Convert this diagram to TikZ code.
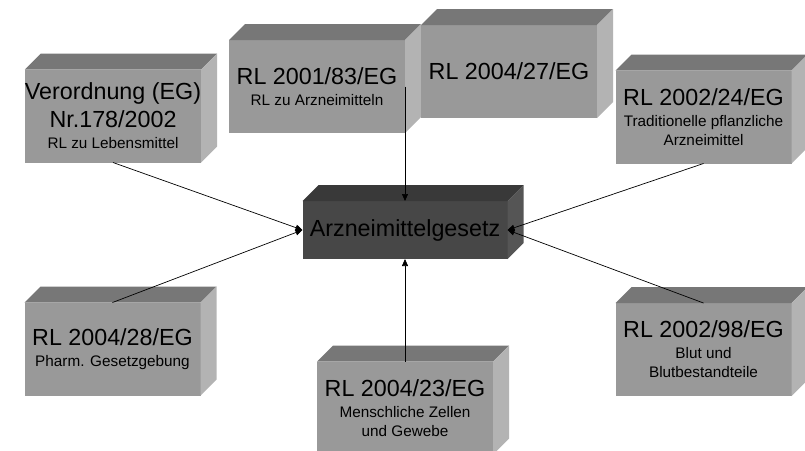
\documentclass[tikz,border=0pt]{standalone}
\usepackage{fontspec}
\setmainfont{Liberation Sans}
\usetikzlibrary{arrows.meta, positioning}
\definecolor{boxfront}{HTML}{999999}
\definecolor{boxtop}{HTML}{777777}
\definecolor{boxside}{HTML}{B3B3B3}
\definecolor{corefront}{HTML}{474747}
\definecolor{coretop}{HTML}{393939}
\definecolor{coreside}{HTML}{555555}
\newcommand{\bigtxt}{\fontsize{23.3}{28}\selectfont}
\newcommand{\smtxt}{\fontsize{15.3}{19}\selectfont}
% top and side face of a block: node, top colour, side colour
\newcommand{\quader}[3]{%
  \fill[#2] (#1.north west) -- ++(16,-16) -- ([xshift=16pt,yshift=16pt]#1.north east) -- (#1.north east) -- cycle;
  \fill[#3] (#1.north east) -- ++(16,-16) -- ([xshift=16pt,yshift=16pt]#1.south east) -- (#1.south east) -- cycle;
}
\tikzset{
  rl box/.style={
    rectangle, fill=boxfront, draw=none,
    minimum width=176pt, minimum height=93pt,
    inner sep=0pt, outer sep=0pt,
    align=center, font=\bigtxt
  },
  rl core/.style={
    rl box, fill=corefront,
    minimum width=205pt, minimum height=58pt
  },
  rl arrow/.style={
    -{Triangle[length=7pt,width=6pt]}, line width=0.7pt, draw=black
  }
}

\begin{document}
\begin{tikzpicture}[x=1pt, y=-1pt]
  \useasboundingbox (0,0) rectangle (805,450);
  % upper row
  \node (verord) [rl box] at (113,116) {Verordnung (EG)\\Nr.178/2002\\[-7pt]\smtxt RL zu Lebensmittel};
  \quader{verord}{boxtop}{boxside}
  \node (rl2001) [rl box] at (317,86.5) {RL 2001/83/EG\\[-7pt]\smtxt RL zu Arzneimitteln};
  \quader{rl2001}{boxtop}{boxside}
  \node (rl2004a) [rl box] at (509,71.5) {RL 2004/27/EG};
  \quader{rl2004a}{boxtop}{boxside}
  \node (rl2002a) [rl box] at (703.5,117) {RL 2002/24/EG\\[-7pt]\smtxt Traditionelle pflanzliche\\[-9pt]\smtxt Arzneimittel};
  \quader{rl2002a}{boxtop}{boxside}
  % centre
  \node (zentrum) [rl core] at (405,230) {Arzneimittelgesetz};
  \quader{zentrum}{coretop}{coreside}
  % lower row
  \node (rl2004b) [rl box] at (112.5,349) {RL 2004/28/EG\\[-7pt]\smtxt Pharm. Gesetzgebung};
  \quader{rl2004b}{boxtop}{boxside}
  \node (rl2004c) [rl box] at (405,408) {RL 2004/23/EG\\[-7pt]\smtxt Menschliche Zellen\\[-9pt]\smtxt und Gewebe};
  \quader{rl2004c}{boxtop}{boxside}
  \node (rl2002b) [rl box] at (703.5,349.5) {RL 2002/98/EG\\[-7pt]\smtxt Blut und\\[-9pt]\smtxt Blutbestandteile};
  \quader{rl2002b}{boxtop}{boxside}

  \draw [rl arrow] (verord.south) -- (zentrum.west);
  \draw [rl arrow] (rl2001.east) -- (zentrum.north);
  \draw [rl arrow] (rl2002a.south) -- (zentrum.east);
  \draw [rl arrow] (rl2004b.north) -- (zentrum.west);
  \draw [rl arrow] (rl2004c.north) -- (zentrum.south);
  \draw [rl arrow] (rl2002b.north) -- (zentrum.east);
\end{tikzpicture}
\end{document}
